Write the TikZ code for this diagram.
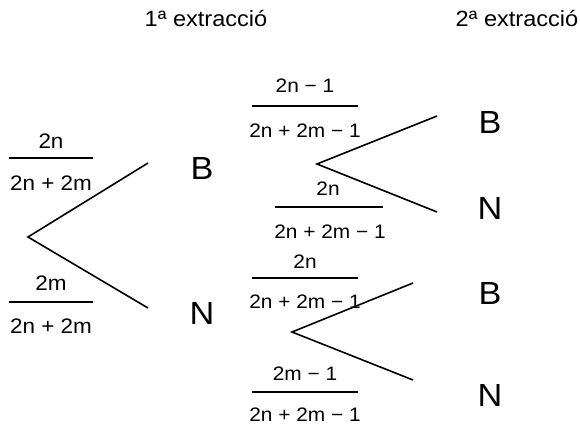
\documentclass[tikz,border=0pt]{standalone}
\usepackage{fontspec}
\setmainfont{Liberation Sans}[FakeStretch=1.07]
\begin{document}
\begin{tikzpicture}[x=1pt,y=-1pt,
  txt/.style={anchor=base,inner sep=0pt,outer sep=0pt},
  title/.style={txt,font=\fontsize{22}{25}\selectfont},
  frac/.style={txt,font=\fontsize{21}{24}\selectfont},
  fracs/.style={txt,font=\fontsize{19.5}{22}\selectfont},
  big/.style={txt,font=\fontsize{32}{36}\selectfont},
  branch/.style={line width=1.6pt},
  bar/.style={line width=1.2pt}]
\useasboundingbox (0,0) rectangle (580,425);
% titles
\node[title] (t1) at (206,27) {1ª extracció};
\node[title] (t2) at (517,27) {2ª extracció};
% first tree
\coordinate (r1) at (28,237);
\coordinate (e1b) at (148,163);
\coordinate (e1n) at (148,308);
\draw[branch] (e1b) -- (r1) -- (e1n);
\node[big] (B1) at (202,179) {B};
\node[big] (N1) at (202,324) {N};
% left fractions
\node[frac] (f1n) at (51,148) {2n};
\coordinate (f1l) at (9,158); \coordinate (f1r) at (93,158);
\draw[bar] (f1l) -- (f1r);
\node[frac] (f1d) at (51,190) {2n + 2m};
\node[frac] (f2n) at (51,290) {2m};
\coordinate (f2l) at (9,302); \coordinate (f2r) at (93,302);
\draw[bar] (f2l) -- (f2r);
\node[frac] (f2d) at (51,333) {2n + 2m};
% second tree (upper)
\coordinate (r2) at (317,164);
\coordinate (e2b) at (437,116);
\coordinate (e2n) at (437,212);
\draw[branch] (e2b) -- (r2) -- (e2n);
\node[big] (B2) at (490,133) {B};
\node[big] (N2) at (490,219) {N};
\node[fracs] (f3n) at (305,93) {2n − 1};
\coordinate (f3l) at (252,106); \coordinate (f3r) at (358,106);
\draw[bar] (f3l) -- (f3r);
\node[fracs] (f3d) at (305,137) {2n + 2m − 1};
\node[fracs] (f4n) at (328,195) {2n};
\coordinate (f4l) at (275,207); \coordinate (f4r) at (383,207);
\draw[bar] (f4l) -- (f4r);
\node[fracs] (f4d) at (330,238) {2n + 2m − 1};
% third tree (lower)
\coordinate (r3) at (292,332);
\coordinate (e3b) at (413,283);
\coordinate (e3n) at (413,380);
\draw[branch] (e3b) -- (r3) -- (e3n);
\node[big] (B3) at (490,304) {B};
\node[big] (N3) at (490,406) {N};
\node[fracs] (f5n) at (305,268) {2n};
\coordinate (f5l) at (252,278); \coordinate (f5r) at (358,278);
\draw[bar] (f5l) -- (f5r);
\node[fracs] (f5d) at (305,308) {2n + 2m − 1};
\node[fracs] (f6n) at (305,380) {2m − 1};
\coordinate (f6l) at (252,392); \coordinate (f6r) at (358,392);
\draw[bar] (f6l) -- (f6r);
\node[fracs] (f6d) at (305,421) {2n + 2m − 1};
\end{tikzpicture}
\end{document}
